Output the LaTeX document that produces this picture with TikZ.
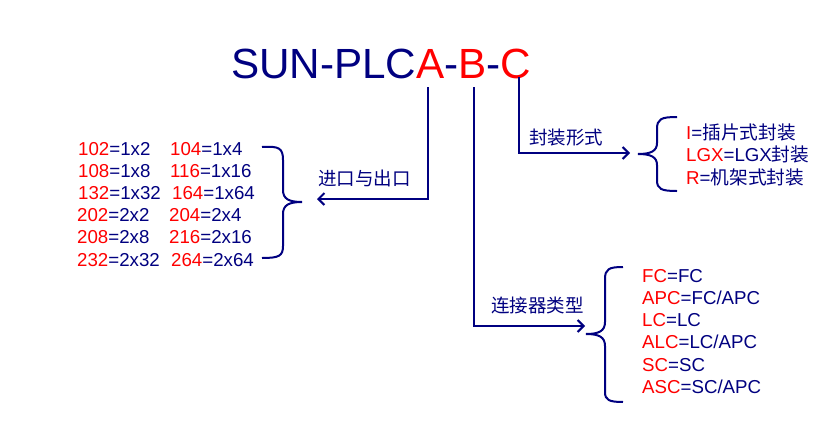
\documentclass[tikz,border=0pt]{standalone}
\usepackage{fontspec}
\setmainfont{Liberation Sans}
\newfontfamily\cjk{Noto Sans CJK SC}
\usetikzlibrary{arrows.meta}
\definecolor{nv}{RGB}{0,0,128}
\definecolor{rd}{RGB}{255,0,0}
\newcommand\Rp[1]{\textcolor{rd}{#1}}
\begin{document}
\begin{tikzpicture}[x=1pt,y=-1pt,
  lbl/.style={inner sep=0pt,anchor=base west,text=nv,font=\fontsize{18.7}{22}\selectfont},
  cjklbl/.style={inner sep=0pt,anchor=base west,text=nv,font=\cjk\fontsize{18.5}{22}\selectfont},
  conn/.style={draw=nv,line width=2pt,-{Straight Barb[length=6pt,width=12pt]}},
  bracepath/.style={draw=nv,line width=2pt}]
\useasboundingbox[fill=white] (0,0) rectangle (839,442);

% title
\node[inner sep=0pt,anchor=base west,text=nv,font=\fontsize{42.2}{50}\selectfont] (title) at (231,78)
  {SUN-PLC\Rp{A}-\Rp{B}-\Rp{C}};

% connector anchors
\coordinate (Atop) at (428,87);
\coordinate (Btop) at (474,87);
\coordinate (Ctop) at (519,77);
\coordinate (Aend) at (317,199);
\coordinate (Bend) at (585,326);
\coordinate (Cend) at (630,153);

\draw[conn] (Atop) |- (Aend);
\draw[conn] (Btop) |- (Bend);
\draw[conn] (Ctop) |- (Cend);

% labels on connectors
\node[cjklbl] (lblA) at (318,185) {进口与出口};
\node[cjklbl] (lblB) at (491,312) {连接器类型};
\node[cjklbl] (lblC) at (529,144) {封装形式};

% left brace
\draw[bracepath] (262,147) .. controls (279,146) and (283,148) .. (283,160)
  -- (283,190) .. controls (283,199) and (289,202) .. (302,202)
  .. controls (289,202) and (283,205) .. (283,214)
  -- (283,246) .. controls (283,256) and (279,258) .. (262,258);

% C brace
\draw[bracepath] (677,117) .. controls (661,117) and (657,119) .. (657,129)
  -- (657,143) .. controls (657,151) and (651,154) .. (638,154)
  .. controls (651,154) and (657,157) .. (657,165)
  -- (657,180) .. controls (657,189) and (661,191) .. (677,191);

% B brace
\draw[bracepath] (623,267) .. controls (609,267) and (605,269) .. (605,279)
  -- (605,322) .. controls (605,331) and (599,334) .. (586,334)
  .. controls (599,334) and (605,337) .. (605,346)
  -- (605,392) .. controls (605,400) and (609,402) .. (623,402);

% left list
\node[lbl] (l1a) at (78,155)   {\Rp{102}=1x2};
\node[lbl] (l1b) at (170,155)  {\Rp{104}=1x4};
\node[lbl] (l2a) at (78,177.2) {\Rp{108}=1x8};
\node[lbl] (l2b) at (170,177.2){\Rp{116}=1x16};
\node[lbl] (l3a) at (78,199.4) {\Rp{132}=1x32};
\node[lbl] (l3b) at (172,199.4){\Rp{164}=1x64};
\node[lbl] (l4a) at (77,221.6) {\Rp{202}=2x2};
\node[lbl] (l4b) at (169,221.6){\Rp{204}=2x4};
\node[lbl] (l5a) at (77,243.8) {\Rp{208}=2x8};
\node[lbl] (l5b) at (169,243.8){\Rp{216}=2x16};
\node[lbl] (l6a) at (77,266)   {\Rp{232}=2x32};
\node[lbl] (l6b) at (171,266)  {\Rp{264}=2x64};

% C list
\node[lbl] (c1) at (686,139)   {\Rp{I}={\cjk 插片式封装}};
\node[lbl] (c2) at (686,161.5) {\Rp{LGX}=LGX{\cjk 封装}};
\node[lbl] (c3) at (686,184)   {\Rp{R}={\cjk 机架式封装}};

% B list
\node[lbl] (b1) at (642,282)   {\Rp{FC}=FC};
\node[lbl] (b2) at (642,304.3) {\Rp{APC}=FC/APC};
\node[lbl] (b3) at (642,326.6) {\Rp{LC}=LC};
\node[lbl] (b4) at (642,348.9) {\Rp{ALC}=LC/APC};
\node[lbl] (b5) at (642,371.2) {\Rp{SC}=SC};
\node[lbl] (b6) at (642,393.5) {\Rp{ASC}=SC/APC};
\end{tikzpicture}
\end{document}
